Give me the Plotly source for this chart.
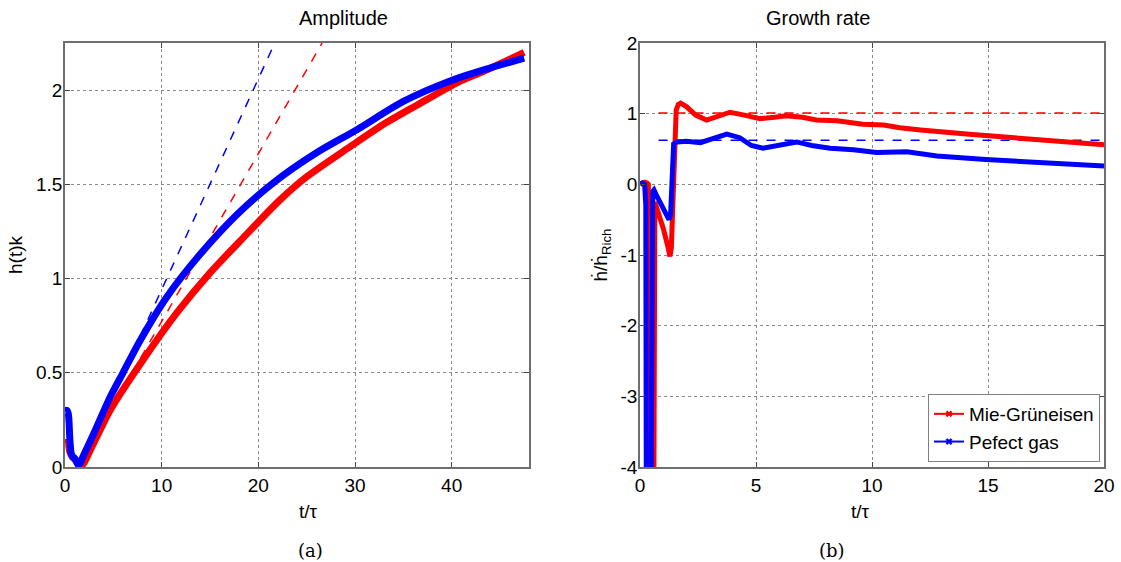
import plotly.graph_objects as go

# ---------------- Amplitude data ----------------
amp_t_mie = [0, 0.2, 0.35, 0.5, 0.8, 1.1, 1.6, 3.0, 4.66, 8.1, 11.6, 15.0, 18.5, 22.3, 25.0, 29.5, 33.0, 36.4, 40.6, 43.3, 47.5]
amp_h_mie = [0.13, 0.13, 0.12, 0.08, 0.05, 0.04, 0.0, 0.13, 0.30, 0.57, 0.82, 1.03, 1.22, 1.42, 1.54, 1.70, 1.82, 1.92, 2.04, 2.10, 2.20]
amp_t_pg = [0, 0.2, 0.35, 0.5, 0.65, 0.8, 1.0, 1.4, 2.0, 3.0, 4.66, 6.0, 7.76, 10.5, 14.0, 17.8, 21.6, 26.1, 30.2, 35.0, 39.9, 43.5, 47.5]
amp_h_pg = [0.30, 0.30, 0.28, 0.15, 0.07, 0.055, 0.045, 0.01, 0.07, 0.18, 0.37, 0.50, 0.67, 0.90, 1.13, 1.34, 1.51, 1.67, 1.79, 1.94, 2.05, 2.11, 2.17]
# linear (Richtmyer) fits, endpoints
fit_t_mie = [1.32, 26.6]
fit_h_mie = [0.0, 2.25]
fit_t_pg = [1.58, 21.7]
fit_h_pg = [0.0, 2.25]

# ---------------- Growth-rate data ----------------
gr_t_mie = [0, 0.1, 0.2, 0.3, 0.36, 0.42, 0.58, 0.64, 0.8, 1.0, 1.2, 1.29, 1.35, 1.42, 1.5, 1.56, 1.65, 1.75, 2.0, 2.4, 2.87,
            3.4, 3.88, 4.5, 5.17, 5.8, 6.3, 7.0, 7.6, 8.5, 9.0, 9.6, 10.5, 11.2, 12.1, 13.0, 14.2, 15.3, 16.4, 17.5, 18.5, 19.3, 20]
gr_v_mie = [0, 0.02, 0.03, 0.02, 0.0, -6, -6, -0.25, -0.4, -0.62, -0.88, -1.02, -0.9, -0.3, 0.6, 1.05, 1.13, 1.15, 1.1, 0.98, 0.91,
            0.96, 1.02, 0.98, 0.93, 0.95, 0.97, 0.95, 0.91, 0.90, 0.88, 0.85, 0.84, 0.80, 0.77, 0.75, 0.71, 0.68, 0.65, 0.63, 0.60, 0.58, 0.56]
gr_t_pg = [0, 0.1, 0.2, 0.25, 0.28, 0.45, 0.55, 0.6, 0.7, 0.9, 1.1, 1.25, 1.32, 1.4, 1.45, 1.6, 2.0, 2.6, 3.2, 3.74, 4.3, 4.8,
           5.3, 6.0, 6.75, 7.4, 8.2, 9.2, 10.2, 11.5, 12.8, 14.9, 17.1, 20]
gr_v_pg = [0, 0.02, 0.0, -0.3, -6, -6, -0.1, -0.08, -0.15, -0.28, -0.42, -0.5, -0.42, 0.2, 0.57, 0.6, 0.61, 0.59, 0.66, 0.71, 0.66, 0.55,
           0.51, 0.55, 0.60, 0.55, 0.51, 0.49, 0.45, 0.46, 0.40, 0.35, 0.31, 0.26]
rich_t = [0.8, 20]
rich_mie = [1.01, 1.01]
rich_pg = [0.625, 0.625]

amp_yticks = [0, 0.5, 1, 1.5, 2]
amp_yticktext = ["0", "0.5", "1", "1.5", "2"]
gr_yticks = [-4, -3, -2, -1, 0, 1, 2]
gr_yticktext = ["-4", "-3", "-2", "-1", "0", "1", "2"]

series_names = ["Mie-Grüneisen", "Pefect gas"]
RED = "#ff0000"
BLUE = "#0000ff"

fig = go.Figure()

# Amplitude panel
fig.add_trace(go.Scatter(x=fit_t_mie, y=fit_h_mie, mode="lines", line=dict(color=RED, width=1.5, dash="dash"),
                         showlegend=False, xaxis="x", yaxis="y"))
fig.add_trace(go.Scatter(x=fit_t_pg, y=fit_h_pg, mode="lines", line=dict(color=BLUE, width=1.5, dash="dash"),
                         showlegend=False, xaxis="x", yaxis="y"))
fig.add_trace(go.Scatter(x=amp_t_mie, y=amp_h_mie, mode="lines", line=dict(color=RED, width=7, shape="spline", smoothing=0.8),
                         showlegend=False, xaxis="x", yaxis="y"))
fig.add_trace(go.Scatter(x=amp_t_pg, y=amp_h_pg, mode="lines", line=dict(color=BLUE, width=7, shape="spline", smoothing=0.8),
                         showlegend=False, xaxis="x", yaxis="y"))

# Growth-rate panel
fig.add_trace(go.Scatter(x=rich_t, y=rich_mie, mode="lines", line=dict(color=RED, width=1.5, dash="dash"),
                         showlegend=False, xaxis="x2", yaxis="y2"))
fig.add_trace(go.Scatter(x=rich_t, y=rich_pg, mode="lines", line=dict(color=BLUE, width=1.5, dash="dash"),
                         showlegend=False, xaxis="x2", yaxis="y2"))
fig.add_trace(go.Scatter(x=gr_t_mie, y=gr_v_mie, mode="lines", line=dict(color=RED, width=5),
                         showlegend=False, xaxis="x2", yaxis="y2"))
fig.add_trace(go.Scatter(x=gr_t_pg, y=gr_v_pg, mode="lines", line=dict(color=BLUE, width=5),
                         showlegend=False, xaxis="x2", yaxis="y2"))

# legend entries
fig.add_trace(go.Scatter(x=[None], y=[None], mode="lines+markers", name=series_names[0],
                         line=dict(color=RED, width=2), marker=dict(symbol="x", size=6, color=RED),
                         xaxis="x2", yaxis="y2"))
fig.add_trace(go.Scatter(x=[None], y=[None], mode="lines+markers", name=series_names[1],
                         line=dict(color=BLUE, width=2), marker=dict(symbol="x", size=6, color=BLUE),
                         xaxis="x2", yaxis="y2"))

W, H = 1121, 562
def px_x(p):
    return p / W
def px_y(p):
    return 1 - p / H

FONT = "Liberation Sans, Arial, sans-serif"
SERIF = "DejaVu Serif, Liberation Serif, serif"
axis_common = dict(
    showline=True, mirror="ticks", linecolor="#6e6e6e", linewidth=1.5,
    ticks="inside", ticklen=5, tickcolor="#444", tickwidth=1,
    showgrid=True, gridcolor="#8a8a8a", griddash="dot", gridwidth=1,
    zeroline=False, automargin=False,
    tickfont=dict(family=FONT, size=19, color="black"),
    title_font=dict(family=FONT, size=19, color="black"),
)

fig.update_layout(
    width=W, height=H,
    margin=dict(l=0, r=0, t=0, b=0),
    paper_bgcolor="white", plot_bgcolor="white",
    font=dict(family=FONT, color="black"),
    xaxis=dict(domain=[px_x(65), px_x(529)], range=[0, 48], dtick=10, anchor="y", **axis_common),
    yaxis=dict(domain=[px_y(467), px_y(43)], range=[0, 2.25], tickvals=amp_yticks,
               ticktext=amp_yticktext, anchor="x", ticklabelstandoff=-3,
               title=dict(text="h(t)k", standoff=8), **axis_common),
    xaxis2=dict(domain=[px_x(640), px_x(1104)], range=[0, 20], dtick=5, anchor="y2", **axis_common),
    yaxis2=dict(domain=[px_y(467), px_y(43)], range=[-4, 2], tickvals=gr_yticks, ticktext=gr_yticktext,
                anchor="x2", ticklabelstandoff=-3,
                title=dict(text="ḣ/ḣ<sub>Rich</sub>", standoff=8), **axis_common),
    legend=dict(x=px_x(1100), y=px_y(462), xanchor="right", yanchor="bottom",
                bgcolor="white", bordercolor="#808080", borderwidth=1,
                font=dict(family=FONT, size=19, color="black"),
                itemwidth=30, tracegroupgap=0),
    showlegend=True,
)

annots = [
    dict(text="Amplitude", x=(px_x(65) + px_x(529)) / 2, y=px_y(18), xref="paper", yref="paper", yanchor="middle",
         showarrow=False, font=dict(family=FONT, size=20, color="black")),
    dict(text="Growth rate", x=(px_x(640) + px_x(1104)) / 2, y=px_y(18), xref="paper", yref="paper", yanchor="middle",
         showarrow=False, font=dict(family=FONT, size=20, color="black")),
    dict(text="t/τ", x=(px_x(65) + px_x(529)) / 2, y=px_y(511), xref="paper", yref="paper", yanchor="middle",
         showarrow=False, font=dict(family=FONT, size=19, color="black")),
    dict(text="t/τ", x=(px_x(640) + px_x(1104)) / 2, y=px_y(511), xref="paper", yref="paper", yanchor="middle",
         showarrow=False, font=dict(family=FONT, size=19, color="black")),
    dict(text="(a)", x=px_x(296), y=px_y(550), xref="paper", yref="paper", yanchor="middle",
         showarrow=False, font=dict(family=SERIF, size=18, color="black")),
    dict(text="(b)", x=px_x(847), y=px_y(550), xref="paper", yref="paper", yanchor="middle",
         showarrow=False, font=dict(family=SERIF, size=18, color="black")),
]
fig.update_layout(annotations=annots)

fig.write_html("out.html")
